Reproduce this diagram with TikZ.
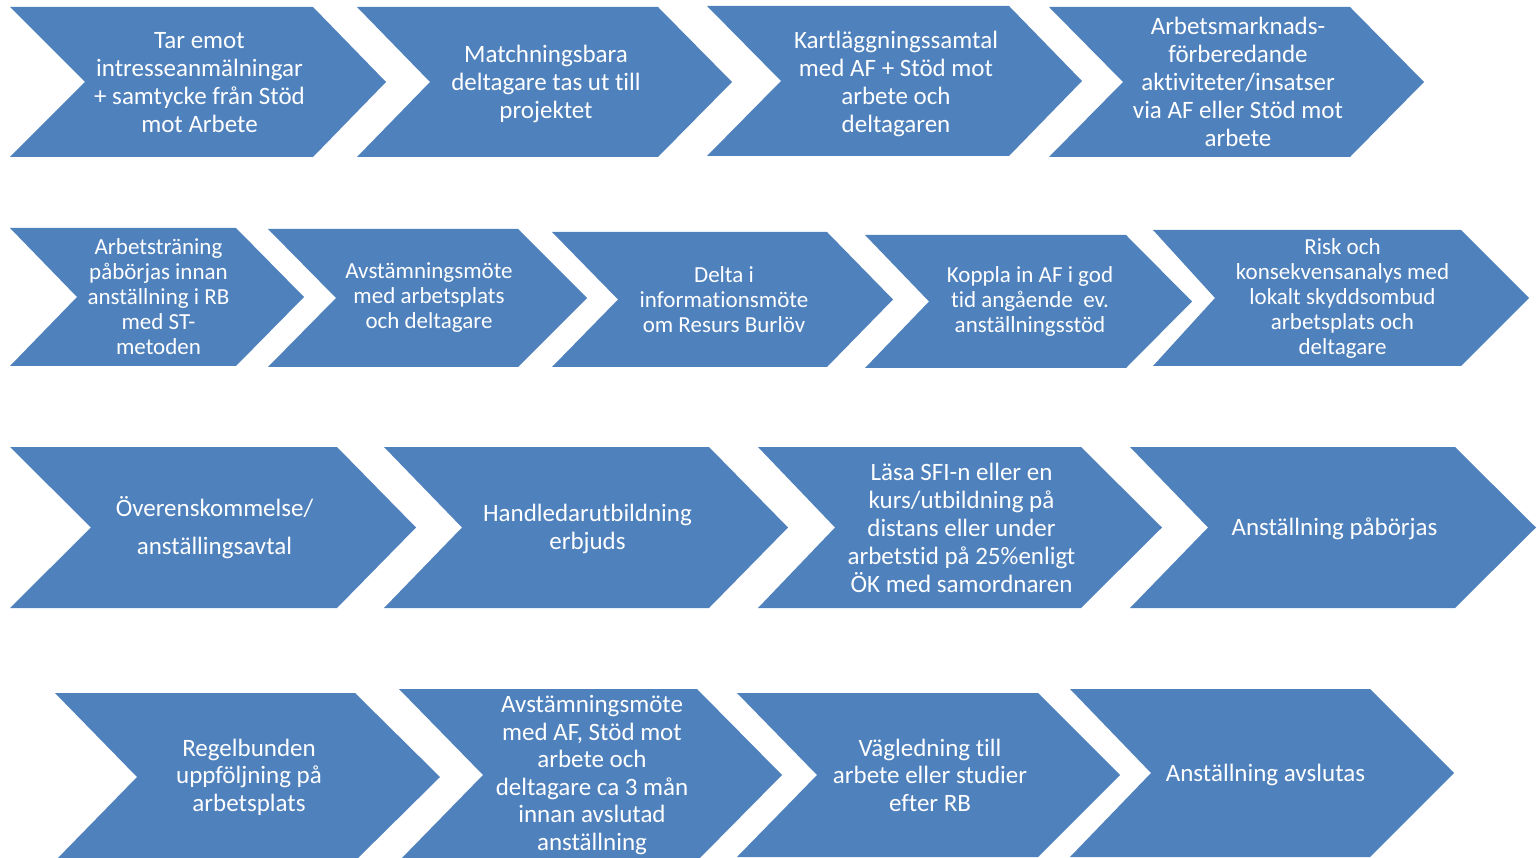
\documentclass[tikz,border=0pt]{standalone}
\usepackage{fontspec}
\setmainfont{Carlito}[Ligatures=NoCommon]
\definecolor{chevblue}{HTML}{4F81BD}
\tikzset{
  chevfill/.style={fill=chevblue},
  lbl/.style={text=white, align=center, inner sep=0pt, xshift=1.5pt},
  fa/.style={font=\fontsize{25}{28}\selectfont},
  fb/.style={font=\fontsize{23}{25}\selectfont},
  fd/.style={font=\fontsize{25}{27.5}\selectfont},
}
% name, L, T, B, R, tip depth, notch depth
\newcommand\chevpath[7]{%
  \fill[chevfill] (#2,#3) -- ({#5-#6},#3) -- (#5,{(#3+#4)/2}) -- ({#5-#6},#4) -- (#2,#4) -- ({#2+#7},{(#3+#4)/2}) -- cycle;
  \coordinate (#1) at ({(#2+#5)/2},{(#3+#4)/2});
}
\begin{document}
\begin{tikzpicture}[x=1pt,y=-1pt]
\useasboundingbox (0,0) rectangle (1537,858);
\begin{scope}
\clip (0,0) rectangle (1537,858);
% Row 1
\chevpath{a1}{10}{7}{157}{386}{73}{75}
\chevpath{a2}{357}{7}{157}{732}{74}{73}
\chevpath{a3}{707}{6}{156}{1082}{73}{74}
\chevpath{a4}{1049}{7}{157}{1424}{74}{74}
% Row 2
\chevpath{b1}{10}{228}{366}{304}{68}{67}
\chevpath{b2}{268}{229}{367}{587}{69}{68}
\chevpath{b3}{552}{232}{367}{893}{66}{66}
\chevpath{b4}{865}{235}{368}{1192}{66}{64}
\chevpath{b5}{1153}{230}{366}{1529}{68}{62}
% Row 3
\chevpath{c1}{10}{447}{608}{416}{79}{81}
\chevpath{c2}{384}{447}{608}{788}{79}{78}
\chevpath{c3}{758}{447}{608}{1162}{81}{77}
\chevpath{c4}{1130}{447}{608}{1536}{81}{78}
% Row 4
\chevpath{d1}{55}{693}{861}{440}{85}{82}
\chevpath{d2}{399}{689}{861}{782}{85}{84}
\chevpath{d3}{737}{693}{857}{1120}{82}{80}
\chevpath{d4}{1070}{689}{857}{1454}{84}{81}
\end{scope}
% Texts
\node[lbl,fa,yshift=-1pt] (ta1) at (a1) {Tar emot\\intresseanmälningar\\+ samtycke från Stöd\\mot Arbete};
\node[lbl,fa,yshift=-2pt] (ta2) at (a2) {Matchningsbara\\deltagare tas ut till\\projektet};
\node[lbl,fa,yshift=-3pt] (ta3) at (a3) {Kartläggningssamtal\\med AF + Stöd mot\\arbete och\\deltagaren};
\node[lbl,fa] (ta4) at (a4) {Arbetsmarknads-\\förberedande\\aktiviteter/insatser\\via AF eller Stöd mot\\arbete};
\node[lbl,fb] (tb1) at (b1) {Arbetsträning\\påbörjas innan\\anställning i RB\\med ST-\\metoden};
\node[lbl,fb] (tb2) at (b2) {Avstämningsmöte\\med arbetsplats\\och deltagare};
\node[lbl,fb] (tb3) at (b3) {Delta i\\informationsmöte\\om Resurs Burlöv};
\node[lbl,fb] (tb4) at (b4) {Koppla in AF i god\\tid angående~ ev.\\anställningsstöd};
\node[lbl,fb] (tb5) at (b5) {Risk och\\konsekvensanalys med\\lokalt skyddsombud\\arbetsplats och\\deltagare};
\node[lbl,fa] (tc1) at (c1) {Överenskommelse/\\[10pt]anställingsavtal};
\node[lbl,fa,yshift=-1pt] (tc2) at (c2) {Handledarutbildning\\erbjuds};
\node[lbl,fa] (tc3) at (c3) {Läsa SFI-n eller en\\kurs/utbildning på\\distans eller under\\arbetstid på 25\%enligt\\ÖK med samordnaren};
\node[lbl,fa,yshift=-1pt] (tc4) at (c4) {Anställning påbörjas};
\node[lbl,fd] (td1) at (d1) {Regelbunden\\uppföljning på\\arbetsplats};
\node[lbl,fd] (td2) at (d2) {Avstämningsmöte\\med AF, Stöd mot\\arbete och\\deltagare ca 3 mån\\innan avslutad\\anställning};
\node[lbl,fd] (td3) at (d3) {Vägledning till\\arbete eller studier\\efter RB};
\node[lbl,fd] (td4) at ([xshift=2pt,yshift=-2pt]d4) {Anställning avslutas};
\end{tikzpicture}
\end{document}
